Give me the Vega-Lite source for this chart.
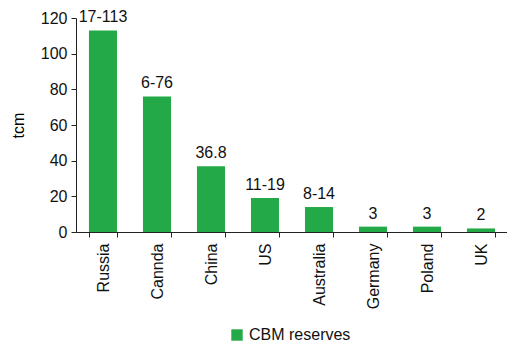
{
  "$schema": "https://vega.github.io/schema/vega-lite/v6.json",
  "width": 432,
  "height": 214,
  "autosize": {"type": "none"},
  "padding": {"left": 76, "top": 18, "right": 0, "bottom": 112},
  "background": "white",
  "config": {
    "view": {"stroke": null},
    "font": "Liberation Sans",
    "axis": {"labelFont": "Liberation Sans", "titleFont": "Liberation Sans", "labelColor": "#111", "domainColor": "#222", "tickColor": "#222", "grid": false}
  },
  "data": {
    "values": [
      {"country": "Russia", "value": 113, "label": "17-113", "series": "CBM reserves"},
      {"country": "Cannda", "value": 76, "label": "6-76", "series": "CBM reserves"},
      {"country": "China", "value": 36.8, "label": "36.8", "series": "CBM reserves"},
      {"country": "US", "value": 19, "label": "11-19", "series": "CBM reserves"},
      {"country": "Australia", "value": 14, "label": "8-14", "series": "CBM reserves"},
      {"country": "Germany", "value": 3, "label": "3", "series": "CBM reserves"},
      {"country": "Poland", "value": 3, "label": "3", "series": "CBM reserves"},
      {"country": "UK", "value": 2, "label": "2", "series": "CBM reserves"}
    ]
  },
  "encoding": {
    "x": {
      "field": "country", "type": "nominal", "sort": null,
      "scale": {"paddingInner": 0.48, "paddingOuter": 0.24},
      "axis": {"title": null, "labelAngle": -90, "labelFontSize": 16, "tickBand": "extent", "tickSize": 5, "labelPadding": 6, "labelAlign": "right", "labelBaseline": "middle"}
    },
    "y": {
      "field": "value", "type": "quantitative",
      "scale": {"domain": [0, 120]},
      "axis": {"title": "tcm", "titleFontSize": 16, "titleFontWeight": "normal", "titlePadding": 14, "labelFontSize": 16, "values": [0, 20, 40, 60, 80, 100, 120], "tickSize": 5, "labelPadding": 4}
    }
  },
  "layer": [
    {
      "mark": {"type": "bar"},
      "encoding": {
        "color": {
          "field": "series", "type": "nominal",
          "scale": {"range": ["#23A947"]},
          "legend": {"title": null, "orient": "none", "legendX": 153, "legendY": 309, "symbolType": "square", "symbolSize": 130, "symbolStrokeWidth": 0, "labelFontSize": 16, "labelColor": "#111", "labelFont": "Liberation Sans"}
        }
      }
    },
    {
      "mark": {"type": "text", "dy": -13, "fontSize": 16, "color": "#111", "font": "Liberation Sans"},
      "encoding": {"text": {"field": "label"}}
    }
  ]
}
